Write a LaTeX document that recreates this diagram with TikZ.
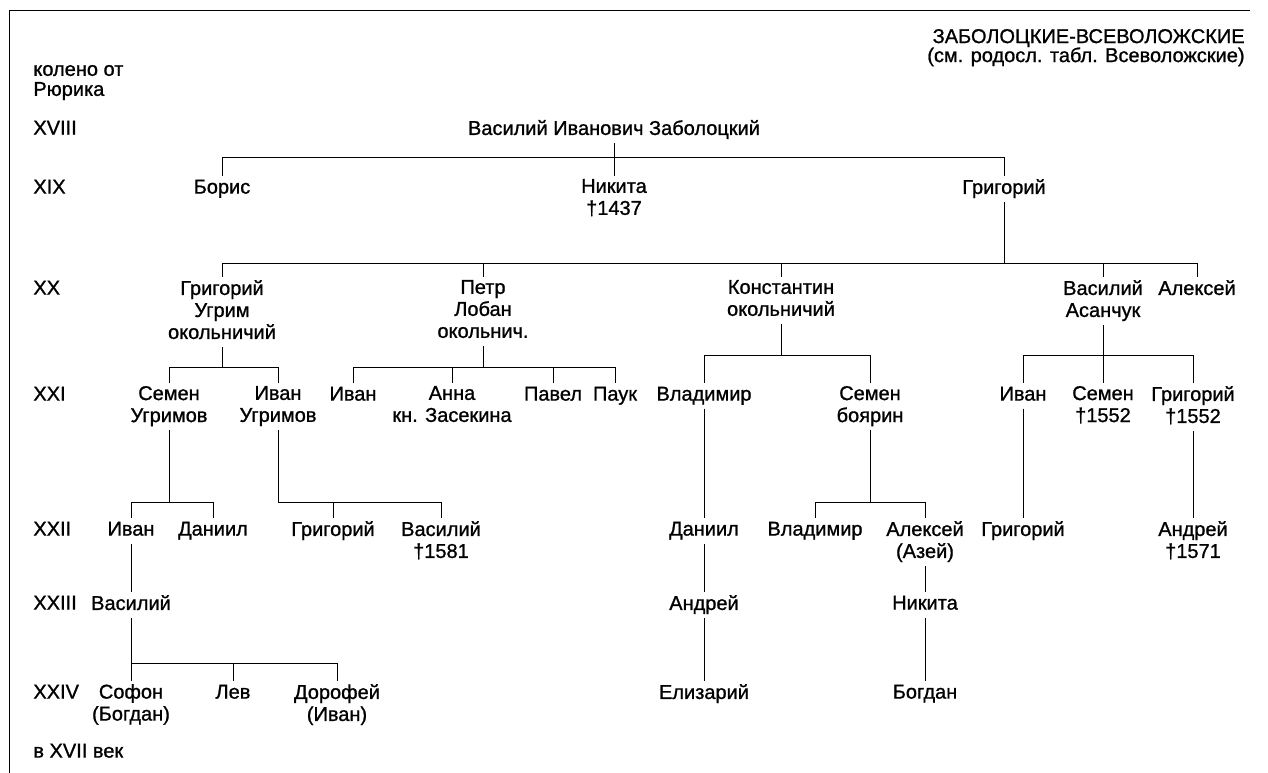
\documentclass[tikz,border=0pt]{standalone}
\usepackage{fontspec}
\setmainfont{Liberation Sans}[FakeBold=1.0]
\newcommand\myfs{\fontsize{20}{22}\selectfont}
\begin{document}
\begin{tikzpicture}[x=1pt,y=-1pt,line width=0.8pt,
  per/.style={inner xsep=0pt,inner ysep=3pt,align=center,anchor=north,yshift=10.3pt,font=\myfs,
    execute at begin node={\rule{0pt}{14.5pt}},
    execute at end node={\rule[-4.5pt]{0pt}{4.5pt}}},
  lab/.style={per,anchor=north west,align=left},
  link/.style={line width=0.8pt}]
\useasboundingbox (0,0) rectangle (1268,773);
% frame
\draw[link] (9,773) -- (9,10) -- (1250,10);
% title
\node[per,anchor=north east,align=right,font=\fontsize{20}{19}\selectfont] (title) at (1245,36)
  {ЗАБОЛОЦКИЕ-ВСЕВОЛОЖСКИЕ\\(см. родосл. табл. Всеволожские)};
% generation labels
\node[lab,font=\fontsize{20}{20}\selectfont] (koleno) at (33,72) {колено от\\Рюрика};
\node[lab] (g18) at (33,127) {XVIII};
\node[lab] (g19) at (33,186) {XIX};
\node[lab] (g20) at (33,287) {XX};
\node[lab] (g21) at (33,393) {XXI};
\node[lab] (g22) at (33,528) {XXII};
\node[lab] (g23) at (33,602) {XXIII};
\node[lab] (g24) at (33,691) {XXIV};
\node[lab] (g17) at (33,750) {в XVII век};
% persons
\node[per] (top) at (614,127) {Василий Иванович Заболоцкий};
\node[per] (boris) at (222,186) {Борис};
\node[per] (nik) at (614,186) {Никита\\†1437};
\node[per] (gri) at (1004,186) {Григорий};
\node[per] (gru) at (222,287) {Григорий\\Угрим\\окольничий};
\node[per] (petr) at (483,287) {Петр\\Лобан\\окольнич.};
\node[per] (kon) at (781,287) {Константин\\окольничий};
\node[per] (vasa) at (1103,287) {Василий\\Асанчук};
\node[per] (ale) at (1197,287) {Алексей};
\node[per] (semu) at (169,393) {Семен\\Угримов};
\node[per] (ivu) at (278,393) {Иван\\Угримов};
\node[per] (iva) at (353,393) {Иван};
\node[per] (anna) at (452,393) {Анна\\кн. Засекина};
\node[per] (pav) at (553,393) {Павел};
\node[per] (pauk) at (615,393) {Паук};
\node[per] (vla) at (704,393) {Владимир};
\node[per] (semb) at (870,393) {Семен\\боярин};
\node[per] (ivb) at (1023,393) {Иван};
\node[per] (semc) at (1103,393) {Семен\\†1552};
\node[per] (grc) at (1193,393) {Григорий\\†1552};
\node[per] (ivd) at (131,528) {Иван};
\node[per] (dand) at (213,528) {Даниил};
\node[per] (grd) at (333,528) {Григорий};
\node[per] (vasd) at (441,528) {Василий\\†1581};
\node[per] (dane) at (704,528) {Даниил};
\node[per] (vle) at (815,528) {Владимир};
\node[per] (alee) at (925,528) {Алексей\\(Азей)};
\node[per] (gre) at (1023,528) {Григорий};
\node[per] (andr) at (1193,528) {Андрей\\†1571};
\node[per] (vase) at (131,602) {Василий};
\node[per] (ande) at (704,602) {Андрей};
\node[per] (nikf) at (925,602) {Никита};
\node[per] (sof) at (131,691) {Софон\\(Богдан)};
\node[per] (lev) at (233,691) {Лев};
\node[per] (dor) at (337,691) {Дорофей\\(Иван)};
\node[per] (eli) at (704,691) {Елизарий};
\node[per] (bog) at (925,691) {Богдан};
% bar levels
\coordinate (b1) at (614,157);
\coordinate (b2) at (0,263);
\coordinate (b3) at (0,367);
\coordinate (b5) at (0,355);
\coordinate (b7) at (0,502);
\coordinate (b10) at (0,663);
% XVIII -> XIX
\draw[link] (top.south) -- (nik.north);
\draw[link] (boris.north) -- (boris.north |- b1) -- (gri.north |- b1) -- (gri.north);
% XIX -> XX
\draw[link] (gri.south) -- (gri.south |- b2);
\draw[link] (gru.north) -- (gru.north |- b2) -- (ale.north |- b2) -- (ale.north);
\draw[link] (petr.north) -- (petr.north |- b2);
\draw[link] (kon.north) -- (kon.north |- b2);
\draw[link] (vasa.north) -- (vasa.north |- b2);
% XX -> XXI
\draw[link] (gru.south) -- (gru.south |- b3);
\draw[link] (semu.north) -- (semu.north |- b3) -- (ivu.north |- b3) -- (ivu.north);
\draw[link] (petr.south) -- (petr.south |- b3);
\draw[link] (iva.north) -- (iva.north |- b3) -- (pauk.north |- b3) -- (pauk.north);
\draw[link] (anna.north) -- (anna.north |- b3);
\draw[link] (pav.north) -- (pav.north |- b3);
\draw[link] (kon.south) -- (kon.south |- b5);
\draw[link] (vla.north) -- (vla.north |- b5) -- (semb.north |- b5) -- (semb.north);
\draw[link] (vasa.south) -- (semc.north);
\draw[link] (ivb.north) -- (ivb.north |- b5) -- (grc.north |- b5) -- (grc.north);
% XXI -> XXII
\draw[link] (semu.south) -- (semu.south |- b7);
\draw[link] (ivd.north) -- (ivd.north |- b7) -- (dand.north |- b7) -- (dand.north);
\draw[link] (ivu.south) -- (ivu.south |- b7) -- (vasd.north |- b7) -- (vasd.north);
\draw[link] (grd.north) -- (grd.north |- b7);
\draw[link] (vla.south) -- (dane.north);
\draw[link] (semb.south) -- (semb.south |- b7);
\draw[link] (vle.north) -- (vle.north |- b7) -- (alee.north |- b7) -- (alee.north);
\draw[link] (ivb.south) -- (gre.north);
\draw[link] (grc.south) -- (andr.north);
% XXII -> XXIII
\draw[link] (ivd.south) -- (vase.north);
\draw[link] (dane.south) -- (ande.north);
\draw[link] (alee.south) -- (nikf.north);
% XXIII -> XXIV
\draw[link] (vase.south) -- (sof.north);
\draw[link] (sof.north |- b10) -- (dor.north |- b10) -- (dor.north);
\draw[link] (lev.north) -- (lev.north |- b10);
\draw[link] (ande.south) -- (eli.north);
\draw[link] (nikf.south) -- (bog.north);
\end{tikzpicture}
\end{document}
